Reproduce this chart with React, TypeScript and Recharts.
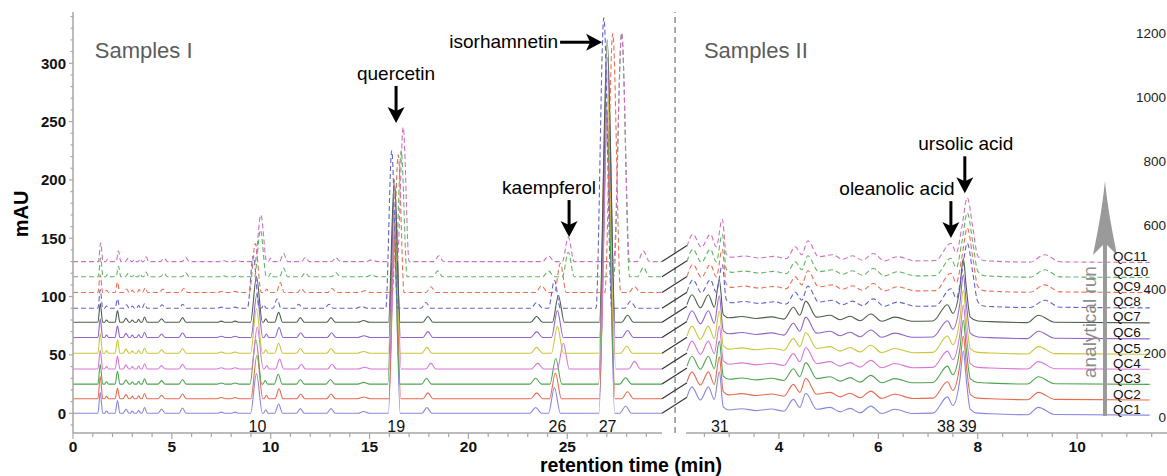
import React from "react";
import { LineChart, Line, XAxis, YAxis, ReferenceDot, ReferenceLine } from "recharts";

const FONT = "'Liberation Sans', Arial, Helvetica, sans-serif";
const AXIS_GRAY = "#a6a6a6";

const qcNames = ["QC1", "QC2", "QC3", "QC4", "QC5", "QC6", "QC7", "QC8", "QC9", "QC10", "QC11"];
const qcColors = ["#8787e0", "#e86a50", "#4fa54f", "#d977d6", "#c8c63c", "#9364c9", "#4b5e4b", "#6262cf", "#ec6f55", "#62b562", "#cf6fc3"];
const qcDashed = [false, false, false, false, false, false, false, true, true, true, true];

// ---------- Samples I (mAU, min) ----------
const baselinesI = [0, 12.5, 25, 38, 51.5, 65, 78, 90, 103.5, 117, 130];
const endTimeI = 29.79;
// half base widths (min) of each peak, same order as the rows below
const peakWidthsI = [0.12, 0.1, 0.12, 0.15, 0.1, 0.1, 0.13, 0.18, 0.18, 0.2, 0.2, 0.3, 0.12, 0.2, 0.2, 0.22, 0.3, 0.3, 0.25, 0.3, 0.3, 0.4, 0.3];
const peakTimesI = [
  [1.38, 1.7, 2.25, 2.68, 3.0, 3.32, 3.62, 4.48, 5.54, 7.5, 8.2, 9.28, 9.75, 10.4, 11.5, 13.05, 14.7, 16.25, 17.9, 23.4, 24.35, 27.0, 27.95],
  [1.38, 1.7, 2.25, 2.68, 3.0, 3.32, 3.62, 4.48, 5.54, 7.5, 8.2, 9.3, 9.78, 10.42, 11.52, 13.05, 14.7, 16.28, 17.95, 23.45, 24.4, 27.02, 28.05],
  [1.38, 1.7, 2.25, 2.68, 3.0, 3.32, 3.62, 4.48, 5.54, 7.5, 8.2, 9.25, 9.72, 10.38, 11.5, 13.02, 14.7, 16.22, 17.88, 23.4, 24.42, 26.98, 27.95],
  [1.38, 1.7, 2.25, 2.68, 3.0, 3.32, 3.62, 4.48, 5.54, 7.5, 8.2, 9.32, 9.8, 10.45, 11.55, 13.1, 14.75, 16.3, 18.1, 23.5, 24.8, 27.05, 28.4],
  [1.38, 1.7, 2.25, 2.68, 3.0, 3.32, 3.62, 4.48, 5.54, 7.5, 8.2, 9.28, 9.75, 10.4, 11.5, 13.05, 14.7, 16.25, 17.9, 23.45, 24.5, 27.0, 28.0],
  [1.38, 1.7, 2.25, 2.68, 3.0, 3.32, 3.62, 4.48, 5.54, 7.5, 8.2, 9.3, 9.78, 10.42, 11.52, 13.08, 14.72, 16.27, 17.95, 23.45, 24.5, 27.03, 28.05],
  [1.38, 1.7, 2.25, 2.68, 3.0, 3.32, 3.62, 4.48, 5.54, 7.5, 8.2, 9.28, 9.75, 10.4, 11.5, 13.05, 14.7, 16.25, 17.95, 23.45, 24.55, 27.02, 28.05],
  [1.38, 1.7, 2.25, 2.7, 3.0, 3.32, 3.62, 4.5, 5.55, 7.5, 8.2, 9.12, 9.65, 10.32, 11.42, 12.95, 14.6, 16.12, 17.85, 23.45, 24.35, 26.85, 28.2],
  [1.38, 1.7, 2.25, 2.7, 3.0, 3.35, 3.65, 4.55, 5.6, 7.5, 8.2, 9.22, 9.8, 10.48, 11.55, 13.1, 14.75, 16.45, 18.1, 23.7, 24.65, 27.3, 28.4],
  [1.4, 1.75, 2.3, 2.8, 3.1, 3.4, 3.7, 4.6, 5.7, 7.6, 8.3, 9.48, 10.0, 10.65, 11.75, 13.3, 15.1, 16.6, 18.45, 24.05, 25.05, 27.75, 28.85],
  [1.4, 1.75, 2.3, 2.8, 3.1, 3.4, 3.7, 4.6, 5.7, 7.6, 8.3, 9.5, 10.0, 10.65, 11.75, 13.3, 15.1, 16.7, 18.5, 24.05, 25.05, 27.75, 28.85],
];
const peakHeightsI = [
  [18, 2, 11, 3.5, 2, 2.5, 5, 3.5, 4.5, 1, 1, 34, 3, 8, 4, 4, 1.5, 150, 5, 5, 22, 240, 6],
  [19, 2, 9, 3.5, 2, 2.5, 4.5, 3, 4, 1, 1, 37, 3, 8.5, 4, 4, 1.5, 150, 5, 5, 22, 245, 6],
  [17, 2, 11, 3.5, 2, 2.5, 4.5, 3, 4, 1, 1, 38, 3, 8.5, 4, 4, 1.5, 145, 5, 5, 22, 240, 5.5],
  [16, 2, 11, 3.5, 2, 2.5, 4.5, 3, 4, 1, 1, 36, 3, 8.5, 4, 4, 1.5, 140, 5, 5, 22, 235, 6.5],
  [17, 2, 11.5, 3.5, 2, 2.5, 4.5, 3, 4, 1, 1, 38, 3, 8.5, 4, 4, 1.5, 140, 5, 5, 23, 245, 6],
  [16, 2, 10, 3.5, 2, 2.5, 4.5, 3, 4, 1, 1, 37, 3, 8.5, 4, 4, 1.5, 130, 5, 5, 23, 240, 6],
  [16, 2, 10, 3.5, 2, 2.5, 4.5, 3, 4, 1, 1, 39, 3, 8.5, 4, 4, 1.5, 122, 5, 5, 23, 242, 6],
  [16, 2, 8, 3, 2, 2.5, 4, 3, 3.5, 1, 1, 45, 3, 8, 3.5, 3.5, 1.5, 135, 5, 5, 24, 249, 6],
  [15, 2, 9, 3, 2, 2.5, 4, 3, 3.5, 1, 1, 42, 3, 8.5, 3.5, 3.5, 1.5, 118, 5, 6, 25, 222, 5],
  [16, 2, 9, 3, 2, 2.5, 4, 3, 3.5, 1, 1, 40, 3, 7.5, 3.5, 3.5, 1.5, 108, 5, 5, 21, 209, 8],
  [16, 2, 9, 3, 2, 2.5, 4, 3, 3.5, 1, 1, 40, 3, 7, 3.5, 3.5, 1.5, 115, 5, 5, 21, 196, 9],
];

const xTicksI = [0, 1, 2, 3, 4, 5, 6, 7, 8, 9, 10, 11, 12, 13, 14, 15, 16, 17, 18, 19, 20, 21, 22, 23, 24, 25, 26, 27, 28, 29];
const xLabelsI = [0, 5, 10, 15, 20, 25];
const yTicksI = [-10, 0, 10, 20, 30, 40, 50, 60, 70, 80, 90, 100, 110, 120, 130, 140, 150, 160, 170, 180, 190, 200, 210, 220, 230, 240, 250, 260, 270, 280, 290, 300, 310, 320, 330, 340];
const yLabelsI = [0, 50, 100, 150, 200, 250, 300];
const peakNumTimesI = [9.33, 16.35, 24.5, 27.04];
const peakNumsI = ["10", "19", "26", "27"];

// ---------- Samples II (right axis units, min) ----------
const baselinesII = [7, 54, 103, 150, 197, 245, 295, 342, 390, 437, 484];
const profileSolidII = [
  [2.15, 57], [2.25, 88], [2.42, 47], [2.58, 88], [2.7, 49], [2.8, 135], [2.88, 26], [3.0, 16], [3.25, 20], [3.55, 14], [3.85, 19], [4.1, 12],
  [4.29, 49], [4.42, 24], [4.54, 68], [4.76, 18], [5.03, 24], [5.23, 10], [5.43, 21], [5.63, 7], [5.85, 28], [6.07, 5], [6.33, 18], [6.7, 5],
  [7.1, 6], [7.39, 57], [7.5, 30], [7.64, 110], [7.71, 200], [7.77, 110], [7.85, 18], [8.0, 6], [8.25, 4], [9.0, 1], [9.22, 24], [9.55, 2], [11.46, 0],
];
const profileDashedII = [
  [2.15, 50], [2.27, 88], [2.44, 47], [2.62, 88], [2.74, 49], [2.86, 135], [2.94, 26], [3.05, 16], [3.3, 20], [3.6, 14], [3.9, 19], [4.15, 12],
  [4.33, 49], [4.46, 24], [4.58, 68], [4.8, 18], [5.08, 24], [5.28, 10], [5.48, 21], [5.68, 7], [5.9, 28], [6.12, 5], [6.38, 18], [6.75, 5],
  [7.15, 6], [7.46, 60], [7.57, 30], [7.68, 110], [7.79, 202], [7.9, 110], [8.0, 20], [8.12, 6], [8.3, 4], [9.05, 1], [9.35, 24], [9.65, 2], [11.46, 0],
];
const xTicksII = [2.5, 3, 3.5, 4, 4.5, 5, 5.5, 6, 6.5, 7, 7.5, 8, 8.5, 9, 9.5, 10, 10.5, 11, 11.5];
const xLabelsII = [4, 6, 8, 10];
const yLabelsII = [0, 200, 400, 600, 800, 1000, 1200];
const peakNumTimesII = [2.81, 7.36, 7.8];
const peakNumsII = ["31", "38", "39"];

type Pt = { t: number; v: number };

function tracePointsI(i: number): Pt[] {
  const base = baselinesI[i];
  const pts: Pt[] = [{ t: 0, v: base }];
  peakTimesI[i].forEach((t, k) => {
    const w = peakWidthsI[k];
    pts.push({ t: t - w, v: base }, { t, v: base + peakHeightsI[i][k] }, { t: t + w, v: base });
  });
  pts.push({ t: endTimeI, v: base });
  return pts;
}

function tracePointsII(i: number): Pt[] {
  const profile = qcDashed[i] ? profileDashedII : profileSolidII;
  return profile.map(([t, h]) => ({ t, v: baselinesII[i] + h }));
}

const makeXTick = (labels: number[]) => (p: any) => {
  const { x, y, payload } = p;
  const major = labels.includes(payload.value);
  return (
    <g>
      <line x1={x} x2={x} y1={y} y2={y + (major ? 6 : 4)} stroke={AXIS_GRAY} strokeWidth={1.2} />
      {major && (
        <text x={x} y={y + 18.5} textAnchor="middle" fontFamily={FONT} fontSize={15.5} fontWeight="bold" fill="#111">
          {payload.value}
        </text>
      )}
    </g>
  );
};

const makeYTick = (labels: number[]) => (p: any) => {
  const { x, y, payload } = p;
  const major = labels.includes(payload.value);
  return (
    <g>
      <line x1={x} x2={x - (major ? 4 : 2.5)} y1={y} y2={y} stroke={AXIS_GRAY} strokeWidth={1.2} />
      {major && (
        <text x={x - 7} y={y} textAnchor="end" dominantBaseline="central" fontFamily={FONT} fontSize={15} fontWeight="bold" fill="#111">
          {payload.value}
        </text>
      )}
    </g>
  );
};

const rightYTick = (p: any) => (
  <text x={p.x - 1} y={p.y} textAnchor="end" dominantBaseline="central" fontFamily={FONT} fontSize={13.5} fill="#222">
    {p.payload.value}
  </text>
);

const downArrow = (label: string, dx: number) => (p: any) => {
  const { cx, cy } = p;
  return (
    <g>
      <line x1={cx} y1={cy - 37} x2={cx} y2={cy - 12} stroke="#000" strokeWidth={3} />
      <path d={`M${cx},${cy} L${cx - 8.5},${cy - 16} L${cx},${cy - 12} L${cx + 8.5},${cy - 16} Z`} fill="#000" />
      <text x={cx + dx} y={cy - 43} textAnchor="middle" fontFamily={FONT} fontSize={19} fill="#000">
        {label}
      </text>
    </g>
  );
};

const rightArrow = (label: string) => (p: any) => {
  const { cx, cy } = p;
  return (
    <g>
      <line x1={cx - 42} y1={cy} x2={cx - 12} y2={cy} stroke="#000" strokeWidth={3} />
      <path d={`M${cx},${cy} L${cx - 16},${cy - 8.5} L${cx - 12},${cy} L${cx - 16},${cy + 8.5} Z`} fill="#000" />
      <text x={cx - 44} y={cy + 6} textAnchor="end" fontFamily={FONT} fontSize={19} fill="#000">
        {label}
      </text>
    </g>
  );
};

const panelTitle = (label: string) => (p: any) => (
  <text x={p.cx} y={p.cy} fontFamily={FONT} fontSize={22} fill="#5c5c5c">
    {label}
  </text>
);

const peakNum = (label: string) => (p: any) => (
  <text x={p.cx} y={p.cy} textAnchor="middle" dominantBaseline="central" fontFamily={FONT} fontSize={16} fill="#111">
    {label}
  </text>
);

const breakMark = (p: any) => (
  <line x1={p.cx} y1={p.cy} x2={p.cx + 25} y2={p.cy - 16} stroke="#333" strokeWidth={1.2} />
);

const qcLabel = (label: string) => (p: any) => (
  <text x={p.cx} y={p.cy - 6} dominantBaseline="central" fontFamily={FONT} fontSize={13.5} fill="#111">
    {label}
  </text>
);

const runArrow = (p: any) => {
  const { cx, cy } = p;
  return (
    <g>
      <line x1={cx} y1={cy + 1} x2={cx} y2={cy - 174} stroke="#9a9a9a" strokeWidth={4} />
      <path
        d={`M${cx},${cy - 234} C${cx + 3},${cy - 205} ${cx + 7},${cy - 185} ${cx + 12},${cy - 160} L${cx},${cy - 172} L${cx - 12},${cy - 160} C${cx - 7},${cy - 185} ${cx - 3},${cy - 205} ${cx},${cy - 234} Z`}
        fill="#9a9a9a"
      />
      <text
        x={cx - 15}
        y={cy - 93}
        transform={`rotate(-90 ${cx - 15} ${cy - 93})`}
        textAnchor="middle"
        dominantBaseline="central"
        fontFamily={FONT}
        fontSize={19}
        fill="#8c8c8c"
      >
        analytical run
      </text>
    </g>
  );
};

export default function App() {
  const axisLine = { stroke: AXIS_GRAY, strokeWidth: 1.5 };
  return (
    <div style={{ position: "absolute", left: 0, top: 0, width: 1167, height: 476, overflow: "hidden", background: "#fff", fontFamily: FONT }}>
      <style>{".recharts-surface{overflow:visible}"}</style>

      {/* Samples I */}
      <div style={{ position: "absolute", left: 0, top: 0 }}>
        <LineChart width={680} height={476} margin={{ top: 12, right: 18, bottom: 0, left: 0 }}>
          <XAxis
            type="number"
            dataKey="t"
            domain={[0, endTimeI]}
            ticks={xTicksI}
            interval={0}
            allowDataOverflow
            height={43}
            tickSize={0}
            tickMargin={0}
            tickLine={false}
            axisLine={axisLine}
            tick={makeXTick(xLabelsI)}
            label={{
              content: (p: any) => (
                <text x={p.viewBox.x + 558} y={471.5} textAnchor="middle" fontFamily={FONT} fontSize={19.5} fontWeight="bold" fill="#000">
                  retention time (min)
                </text>
              ),
            }}
          />
          <YAxis
            type="number"
            domain={[-16.9, 343.9]}
            ticks={yTicksI}
            interval={0}
            allowDataOverflow
            width={73}
            tickSize={0}
            tickMargin={0}
            tickLine={false}
            axisLine={axisLine}
            tick={makeYTick(yLabelsI)}
            label={{
              content: () => (
                <text x={28} y={214} transform="rotate(-90 28 214)" textAnchor="middle" fontFamily={FONT} fontSize={20} fontWeight="bold" fill="#000">
                  mAU
                </text>
              ),
            }}
          />
          <ReferenceLine x={30.45} ifOverflow="visible" stroke="#555" strokeDasharray="6 4" strokeWidth={1} />
          {qcNames.map((name, i) => (
            <Line
              key={name}
              data={tracePointsI(i)}
              dataKey="v"
              type="monotone"
              stroke={qcColors[i]}
              strokeWidth={1.1}
              strokeDasharray={qcDashed[i] ? "5 3" : undefined}
              dot={false}
              activeDot={false}
              isAnimationActive={false}
            />
          ))}
          {qcNames.map((name, i) => (
            <ReferenceDot key={"b" + name} x={endTimeI} y={baselinesI[i]} r={0} shape={breakMark} />
          ))}
          {peakNumsI.map((n, k) => (
            <ReferenceDot key={"p" + n} x={peakNumTimesI[k]} y={-11.3} r={0} shape={peakNum(n)} />
          ))}
          <ReferenceDot x={1.1} y={304.5} r={0} shape={panelTitle("Samples I")} />
          <ReferenceDot x={16.34} y={248.8} r={0} shape={downArrow("quercetin", 0)} />
          <ReferenceDot x={25.09} y={151} r={0} shape={downArrow("kaempferol", -20)} />
          <ReferenceDot x={26.76} y={318} r={0} shape={rightArrow("isorhamnetin")} />
        </LineChart>
      </div>

      {/* Samples II */}
      <div style={{ position: "absolute", left: 650, top: 0 }}>
        <LineChart width={537} height={476} margin={{ top: 12, right: 0, bottom: 0, left: 36 }}>
          <XAxis
            type="number"
            dataKey="t"
            domain={[2.13, 11.808]}
            ticks={xTicksII}
            interval={0}
            allowDataOverflow
            height={43}
            tickSize={0}
            tickMargin={0}
            tickLine={false}
            axisLine={axisLine}
            tick={makeXTick(xLabelsII)}
          />
          <YAxis
            type="number"
            orientation="right"
            domain={[-49, 1266.6]}
            ticks={yLabelsII}
            interval={0}
            allowDataOverflow
            width={20}
            tickSize={0}
            tickMargin={0}
            tickLine={false}
            axisLine={false}
            tick={rightYTick}
          />
          {qcNames.map((name, i) => (
            <Line
              key={name}
              data={tracePointsII(i)}
              dataKey="v"
              type="monotone"
              stroke={qcColors[i]}
              strokeWidth={1.1}
              strokeDasharray={qcDashed[i] ? "5 3" : undefined}
              dot={false}
              activeDot={false}
              isAnimationActive={false}
            />
          ))}
          {peakNumsII.map((n, k) => (
            <ReferenceDot key={"p" + n} x={peakNumTimesII[k]} y={-30} r={0} shape={peakNum(n)} />
          ))}
          <ReferenceDot x={2.49} y={1123} r={0} shape={panelTitle("Samples II")} />
          <ReferenceDot x={7.74} y={700} r={0} shape={downArrow("ursolic acid", 1)} />
          <ReferenceDot x={7.46} y={560} r={0} shape={downArrow("oleanolic acid", -54)} />
          <ReferenceDot x={10.56} y={baselinesII[0]} r={0} shape={runArrow} />
          {qcNames.map((name, i) => (
            <ReferenceDot key={"q" + name} x={10.72} y={baselinesII[i]} r={0} shape={qcLabel(name)} />
          ))}
        </LineChart>
      </div>
    </div>
  );
}
